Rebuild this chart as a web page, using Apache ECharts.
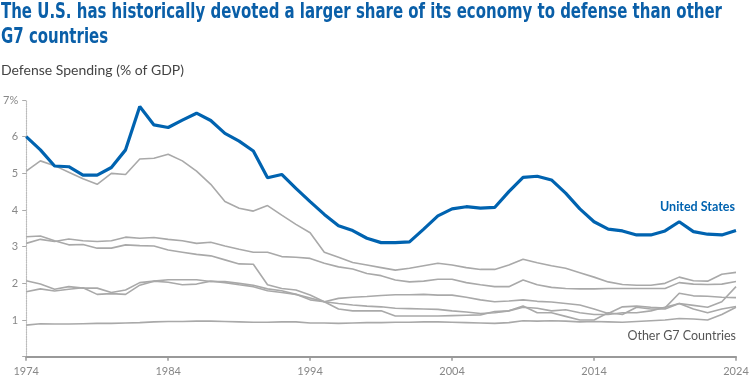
<!DOCTYPE html>
<html>
<head>
<meta charset="utf-8">
<script src="https://cdn.jsdelivr.net/npm/echarts@6/dist/echarts.min.js"></script>
<style>
html,body{margin:0;padding:0;background:#fff;}
#chart{width:752px;height:379px;}
</style>
</head>
<body>
<div id="chart"></div>
<script>
const titleLines = ['The U.S. has historically devoted a larger share of its economy to defense than other', 'G7 countries'];
const subtitle = 'Defense Spending (% of GDP)';
const usLabel = 'United States';
const otherLabel = 'Other G7 Countries';

const years = [];
for (let y = 1974; y <= 2024; y++) years.push(String(y));

const unitedStates = [6.0,5.64,5.2,5.18,4.95,4.95,5.16,5.64,6.82,6.32,
  6.25,6.45,6.64,6.44,6.09,5.88,5.61,4.88,4.97,4.59,
  4.23,3.88,3.57,3.44,3.23,3.11,3.11,3.13,3.48,3.84,
  4.03,4.09,4.05,4.07,4.5,4.89,4.92,4.82,4.46,4.03,
  3.68,3.48,3.43,3.32,3.32,3.43,3.68,3.41,3.34,3.32,3.44];

const unitedKingdom = [5.06,5.34,5.21,5.03,4.85,4.70,5.0,4.97,5.39,5.41,
  5.52,5.34,5.06,4.70,4.23,4.05,3.97,4.12,3.86,3.61,
  3.38,2.85,2.71,2.57,2.50,2.43,2.36,2.41,2.48,2.55,
  2.50,2.43,2.38,2.38,2.50,2.66,2.56,2.48,2.41,2.29,
  2.17,2.04,1.97,1.95,1.95,2.0,2.17,2.07,2.06,2.25,2.30];

const germany = [3.27,3.29,3.16,3.05,3.06,2.96,2.96,3.05,3.03,3.02,
  2.91,2.85,2.79,2.75,2.64,2.53,2.52,1.96,1.86,1.82,
  1.68,1.5,1.45,1.41,1.38,1.36,1.32,1.31,1.3,1.29,
  1.25,1.22,1.18,1.2,1.25,1.35,1.32,1.25,1.28,1.2,
  1.15,1.15,1.2,1.2,1.25,1.35,1.45,1.4,1.35,1.5,1.91];

const france = [3.09,3.2,3.14,3.21,3.16,3.14,3.16,3.26,3.23,3.25,
  3.2,3.16,3.09,3.12,3.02,2.93,2.85,2.85,2.73,2.71,
  2.68,2.55,2.45,2.39,2.27,2.21,2.09,2.04,2.06,2.11,
  2.11,2.02,1.96,1.91,1.91,2.09,1.96,1.89,1.86,1.85,
  1.85,1.86,1.86,1.86,1.86,1.86,2.02,1.98,1.97,1.98,2.05];

const canada = [2.07,1.98,1.84,1.91,1.87,1.87,1.75,1.82,2.02,2.06,
  2.03,1.96,1.98,2.06,2.02,1.96,1.91,1.8,1.75,1.7,
  1.6,1.5,1.3,1.25,1.25,1.25,1.11,1.11,1.11,1.11,
  1.12,1.13,1.14,1.23,1.25,1.38,1.2,1.2,1.1,1.0,
  1.0,1.2,1.15,1.35,1.3,1.3,1.45,1.3,1.2,1.3,1.37];

const italy = [1.77,1.85,1.79,1.84,1.88,1.7,1.72,1.7,1.95,2.06,
  2.1,2.1,2.1,2.05,2.05,2.0,1.95,1.85,1.8,1.7,
  1.55,1.5,1.59,1.62,1.64,1.67,1.69,1.69,1.7,1.68,
  1.68,1.62,1.55,1.5,1.52,1.55,1.51,1.49,1.45,1.41,
  1.3,1.18,1.36,1.38,1.35,1.33,1.73,1.66,1.65,1.62,1.61];

const japan = [0.86,0.9,0.89,0.89,0.9,0.91,0.91,0.92,0.93,0.95,
  0.96,0.96,0.97,0.97,0.96,0.95,0.94,0.94,0.95,0.95,
  0.92,0.92,0.91,0.92,0.93,0.93,0.94,0.94,0.95,0.95,
  0.94,0.93,0.92,0.91,0.93,0.98,0.97,0.98,0.97,0.95,
  0.96,0.95,0.94,0.96,0.98,1.0,1.04,1.03,1.0,1.15,1.35];

const others = [
  {name:'United Kingdom', data:unitedKingdom},
  {name:'Germany', data:germany},
  {name:'France', data:france},
  {name:'Canada', data:canada},
  {name:'Italy', data:italy},
  {name:'Japan', data:japan}
];

const BLUE = '#0063b0';
const GRAY = '#a9a9a9';

const titleFont = 'bold 22px "Liberation Sans Narrow", "DejaVu Sans Condensed", sans-serif';
const ctx = document.createElement('canvas').getContext('2d');
ctx.font = titleFont;
const tw = ctx.measureText(titleLines[0]).width;
const sx = 721 / tw;

const chart = echarts.init(document.getElementById('chart'), null, {renderer:'canvas'});

const series = others.map(o => ({
  name:o.name, type:'line', data:o.data, symbol:'none', silent:true,
  lineStyle:{color:GRAY, width:1.6}, z:2
}));
series.push({
  name:'United States', type:'line', data:unitedStates, symbol:'none', silent:true,
  lineStyle:{color:BLUE, width:3.2}, z:3
});

chart.setOption({
  animation:false,
  grid:{left:25, right:16, top:100, bottom:22.3, containLabel:false},
  xAxis:{
    type:'category', data:years, boundaryGap:false,
    axisLine:{lineStyle:{color:'#999', width:2}},
    axisTick:{interval:9, length:4, lineStyle:{color:'#999', width:1.5}},
    axisLabel:{interval:9, color:'#888', fontFamily:'Lato', fontSize:11, margin:9},
    splitLine:{show:false}
  },
  yAxis:{
    type:'value', min:0, max:7, interval:1,
    axisLine:{show:true, lineStyle:{color:'#bbb', width:1.2, type:'dotted'}},
    axisTick:{show:true, length:4, lineStyle:{color:'#aaa'}},
    axisLabel:{color:'#888', fontFamily:'Lato', fontSize:11, margin:8,
      formatter: v => v === 0 ? '' : (v === 7 ? v + '%' : String(v))},
    splitLine:{show:false}
  },
  graphic:[
    {type:'text', x:1, y:12, scaleX:sx, style:{text:titleLines[0], font:titleFont, fill:'#0a5fa8', textVerticalAlign:'middle'}},
    {type:'text', x:1, y:37, scaleX:sx, style:{text:titleLines[1], font:titleFont, fill:'#0a5fa8', textVerticalAlign:'middle'}},
    {type:'text', x:1, y:70.5, style:{text:subtitle, font:'14px Lato', fill:'#444', textVerticalAlign:'middle'}},
    {type:'text', x:735, y:207, style:{text:usLabel, font:'bold 12.5px Lato', fill:BLUE, textAlign:'right', textVerticalAlign:'middle'}},
    {type:'text', x:736, y:335.5, style:{text:otherLabel, font:'12.5px Lato', fill:'#555', textAlign:'right', textVerticalAlign:'middle'}}
  ],
  series:series
});
</script>
</body>
</html>
